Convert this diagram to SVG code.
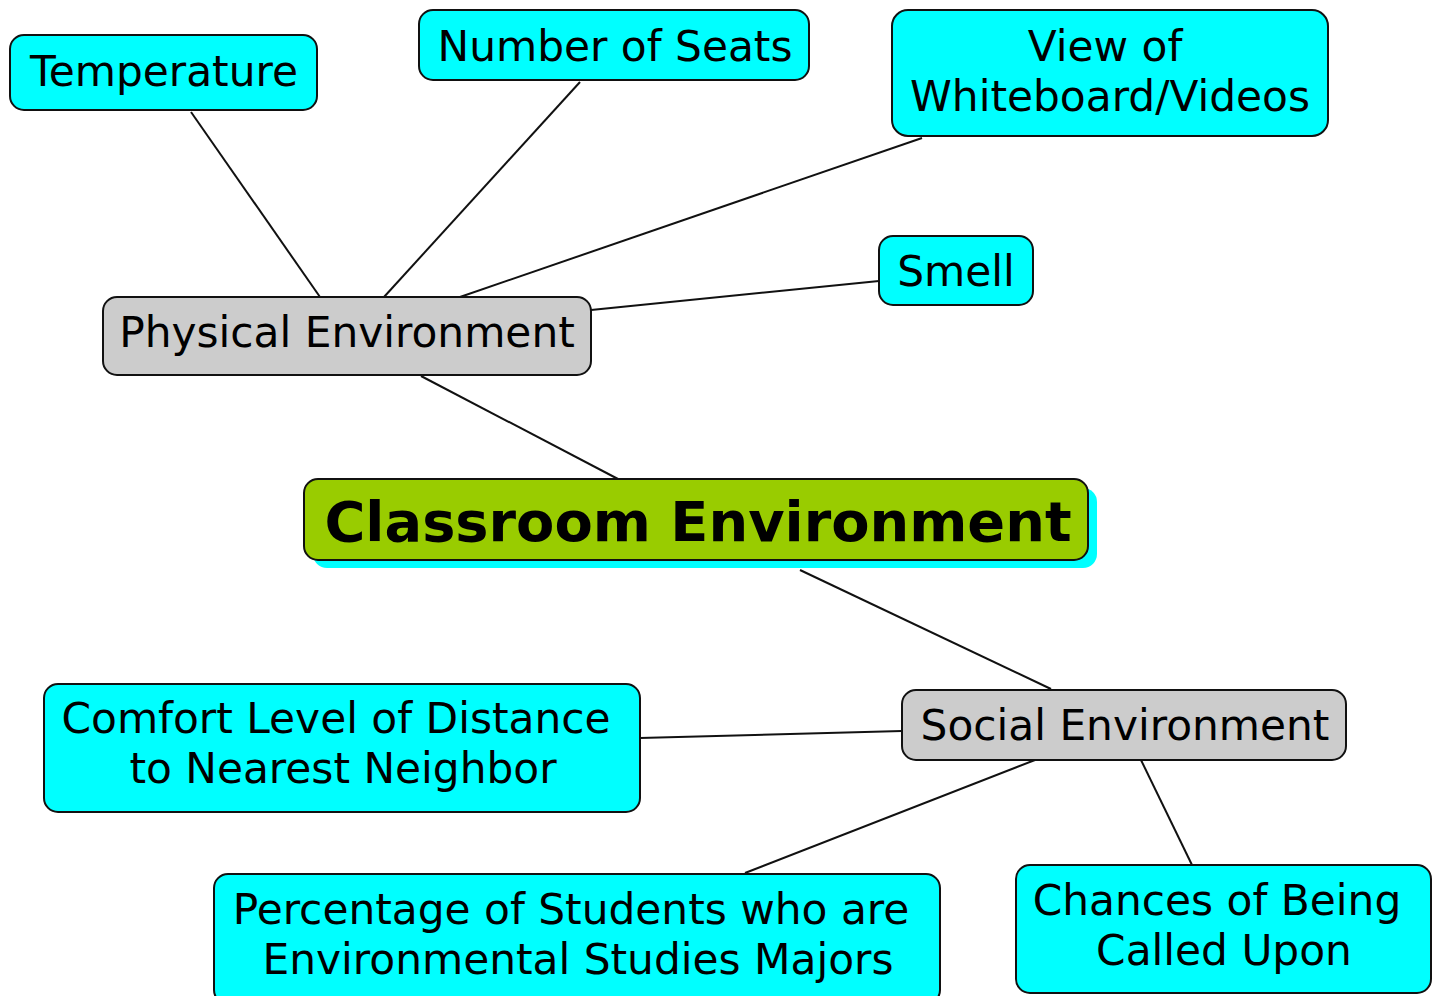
<svg xmlns="http://www.w3.org/2000/svg" width="1436" height="996" viewBox="0 0 1436 996">
<style>
.leaf{fill:#00ffff;stroke:#111;stroke-width:2}
.mid{fill:#cccccc;stroke:#111;stroke-width:2}
.t{font-family:"DejaVu Sans",Verdana,sans-serif;font-size:42.3px;fill:#000;text-anchor:middle}
.c{font-family:"DejaVu Sans",Verdana,sans-serif;font-size:55.8px;font-weight:bold;fill:#000;text-anchor:middle}
.ln{stroke:#111;stroke-width:2;fill:none}
</style>
<rect width="1436" height="996" fill="#fff"/>
<g id="connectors">
<line class="ln" x1="191" y1="112" x2="320" y2="297"/>
<line class="ln" x1="580" y1="82" x2="384" y2="297"/>
<line class="ln" x1="922" y1="138" x2="460" y2="297"/>
<line class="ln" x1="879" y1="281" x2="591" y2="310"/>
<line class="ln" x1="421" y1="376" x2="618" y2="479"/>
<line class="ln" x1="800" y1="570" x2="1051" y2="689"/>
<line class="ln" x1="902" y1="731" x2="640" y2="738"/>
<line class="ln" x1="1035" y1="760" x2="745" y2="873"/>
<line class="ln" x1="1141" y1="760" x2="1192" y2="865"/>
</g>
<g id="temperature">
<rect class="leaf" x="10" y="35" width="307" height="75" rx="14"/>
<text class="t" x="164" y="86">Temperature</text>
</g>
<g id="seats">
<rect class="leaf" x="419" y="10" width="390" height="70" rx="14"/>
<text class="t" x="615" y="61">Number of Seats</text>
</g>
<g id="view">
<rect class="leaf" x="892" y="10" width="436" height="126" rx="16"/>
<text class="t" x="1105" y="61">View of</text>
<text class="t" x="1110" y="111">Whiteboard/Videos</text>
</g>
<g id="smell">
<rect class="leaf" x="879" y="236" width="154" height="69" rx="14"/>
<text class="t" x="956" y="286">Smell</text>
</g>
<g id="physical">
<rect class="mid" x="103" y="297" width="488" height="78" rx="14"/>
<text class="t" x="347" y="347">Physical Environment</text>
</g>
<g id="classroom">
<rect x="313" y="488" width="784" height="80" rx="14" fill="#00ffff"/>
<rect x="304" y="479" width="784" height="81" rx="14" fill="#99cc00" stroke="#111" stroke-width="2"/>
<text class="c" x="698" y="541">Classroom Environment</text>
</g>
<g id="social">
<rect class="mid" x="902" y="690" width="444" height="70" rx="14"/>
<text class="t" x="1125" y="740">Social Environment</text>
</g>
<g id="comfort">
<rect class="leaf" x="44" y="684" width="596" height="128" rx="14"/>
<text class="t" x="336" y="733">Comfort Level of Distance</text>
<text class="t" x="343" y="783">to Nearest Neighbor</text>
</g>
<g id="percentage">
<rect class="leaf" x="214" y="874" width="726" height="130" rx="14"/>
<text class="t" x="571" y="924">Percentage of Students who are</text>
<text class="t" x="578" y="974">Environmental Studies Majors</text>
</g>
<g id="chances">
<rect class="leaf" x="1016" y="865" width="415" height="128" rx="14"/>
<text class="t" x="1217" y="915">Chances of Being</text>
<text class="t" x="1224" y="965">Called Upon</text>
</g>
</svg>
